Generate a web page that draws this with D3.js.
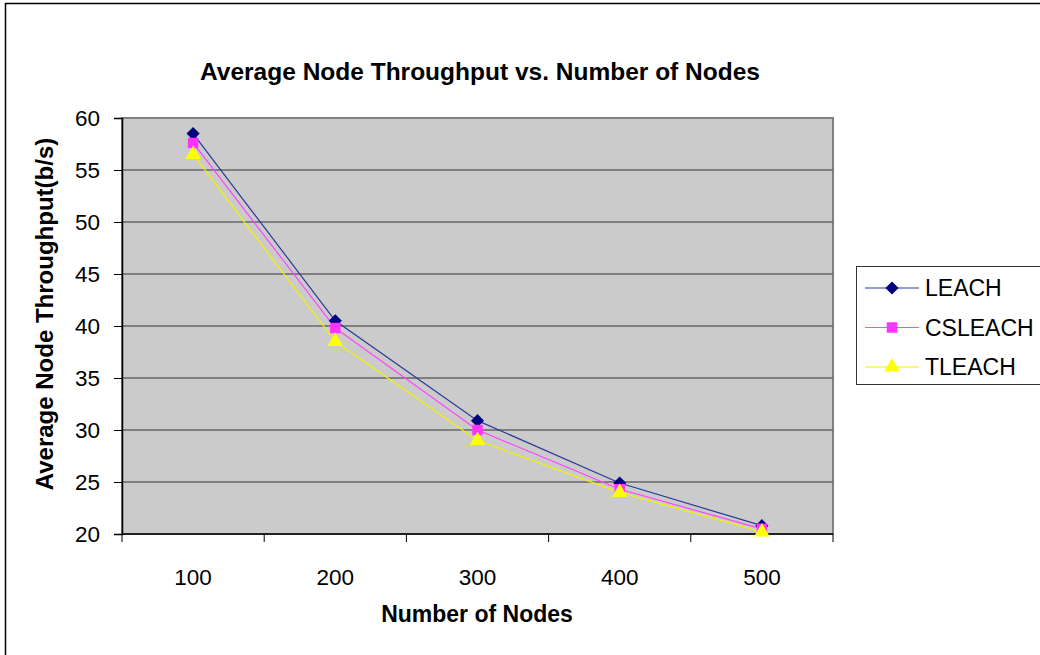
<!DOCTYPE html>
<html>
<head>
<meta charset="utf-8">
<script src="https://cdn.jsdelivr.net/npm/d3@7"></script>
<style>
  body { margin: 0; background: #fff; }
  svg { display: block; font-family: "Liberation Sans", Arial, sans-serif; }
</style>
</head>
<body>
<svg width="1040" height="655"></svg>
<script>
// data
var nodes = ["100", "200", "300", "400", "500"];
var leach   = [58.5, 40.5, 30.9, 24.9, 20.8];
var csleach = [57.6, 39.8, 30.0, 24.3, 20.5];
var tleach  = [56.5, 38.5, 29.0, 24.0, 20.2];
var yTicks = [20, 25, 30, 35, 40, 45, 50, 55, 60];

var series = [
  {name: "LEACH",   values: leach,   color: "#000080", line: "#2b3a99", shape: "diamond"},
  {name: "CSLEACH", values: csleach, color: "#ff33ff", line: "#ff44ff", shape: "square"},
  {name: "TLEACH",  values: tleach,  color: "#ffff00", line: "#f2f200", shape: "triangle"}
];

var svg = d3.select("svg");

// outer frame (only left/top visible)
svg.append("rect")
  .attr("x", 5.5).attr("y", 3.5)
  .attr("width", 1100).attr("height", 1000)
  .attr("fill", "#fff").attr("stroke", "#000").attr("stroke-width", 1.5);

var pLeft = 122, pRight = 833, pTop = 118, pBottom = 534;

var x = d3.scaleBand().domain(nodes).range([pLeft, pRight]);
var y = d3.scaleLinear().domain([20, 60]).range([pBottom, pTop]);
var cx = d => x(d) + x.bandwidth() / 2;

// plot area
svg.append("rect")
  .attr("x", pLeft).attr("y", pTop)
  .attr("width", pRight - pLeft).attr("height", pBottom - pTop)
  .attr("fill", "#cbcbcb")
  .attr("stroke", "#808080").attr("stroke-width", 2);

// gridlines
svg.append("g")
  .selectAll("line")
  .data(yTicks.slice(1, -1))
  .enter()
  .append("line")
  .attr("x1", pLeft).attr("x2", pRight)
  .attr("y1", d => y(d)).attr("y2", d => y(d))
  .attr("stroke", "#666").attr("stroke-width", 1.5);

// y axis
var yAxis = svg.append("g")
  .attr("transform", "translate(" + pLeft + ",0)")
  .call(d3.axisLeft(y).tickValues(yTicks).tickSize(8).tickPadding(14));
yAxis.selectAll("text").attr("font-size", 22.5).attr("fill", "#000")
  .attr("font-family", "Liberation Sans, Arial, sans-serif");
yAxis.selectAll("line").attr("stroke", "#000");
yAxis.select(".domain").attr("stroke", "#000").attr("stroke-width", 1.5);

// x axis: ticks at category boundaries
var xAxis = svg.append("g")
  .attr("transform", "translate(0," + pBottom + ")");
xAxis.append("line")
  .attr("x1", pLeft).attr("x2", pRight)
  .attr("stroke", "#000").attr("stroke-width", 1.5);
var bounds = nodes.map(d => x(d)).concat([pRight]);
xAxis.selectAll(".tk")
  .data(bounds)
  .enter()
  .append("line")
  .attr("class", "tk")
  .attr("x1", d => d).attr("x2", d => d)
  .attr("y1", 0).attr("y2", 8)
  .attr("stroke", "#000");
xAxis.selectAll(".lbl")
  .data(nodes)
  .enter()
  .append("text")
  .attr("class", "lbl")
  .attr("x", cx)
  .attr("y", 51)
  .attr("text-anchor", "middle")
  .attr("font-size", 22.5)
  .text(d => d);

function markerPath(shape) {
  if (shape == "diamond") return d3.symbol(d3.symbolDiamond2, 110)();
  if (shape == "square") return d3.symbol(d3.symbolSquare, 110)();
  return d3.symbol(d3.symbolTriangle, 105)();
}

var line = d3.line()
  .x((d, i) => cx(nodes[i]))
  .y(d => y(d));

series.forEach(function (s) {
  svg.append("path")
    .attr("d", line(s.values))
    .attr("fill", "none")
    .attr("stroke", s.line)
    .attr("stroke-width", 1.2);
});

series.forEach(function (s) {
  svg.append("g")
    .selectAll("path")
    .data(s.values)
    .enter()
    .append("path")
    .attr("d", markerPath(s.shape))
    .attr("transform", (d, i) => "translate(" + cx(nodes[i]) + "," + y(d) + ")")
    .attr("fill", s.color);
});

// titles
svg.append("text")
  .attr("x", 480).attr("y", 80)
  .attr("text-anchor", "middle")
  .attr("font-size", 24.5).attr("font-weight", "bold")
  .text("Average Node Throughput vs. Number of Nodes");

svg.append("text")
  .attr("x", 477).attr("y", 622)
  .attr("text-anchor", "middle")
  .attr("font-size", 23).attr("font-weight", "bold")
  .text("Number of Nodes");

svg.append("text")
  .attr("transform", "translate(53,314) rotate(-90)")
  .attr("text-anchor", "middle")
  .attr("font-size", 24).attr("font-weight", "bold")
  .text("Average Node Throughput(b/s)");

// legend
var legend = svg.append("g");
legend.append("rect")
  .attr("x", 856.5).attr("y", 266.5)
  .attr("width", 250).attr("height", 118)
  .attr("fill", "#fff").attr("stroke", "#333");
var entry = legend.selectAll(".entry")
  .data(series)
  .enter()
  .append("g")
  .attr("transform", (d, i) => "translate(0," + (288 + i * 39.5) + ")");
entry.append("line")
  .attr("x1", 865).attr("x2", 919)
  .attr("stroke", d => d.line).attr("stroke-width", 1.2);
entry.append("path")
  .attr("d", d => markerPath(d.shape))
  .attr("transform", "translate(892,0)")
  .attr("fill", d => d.color);
entry.append("text")
  .attr("x", 925).attr("y", 8)
  .attr("font-size", 23)
  .text(d => d.name);
</script>
</body>
</html>
